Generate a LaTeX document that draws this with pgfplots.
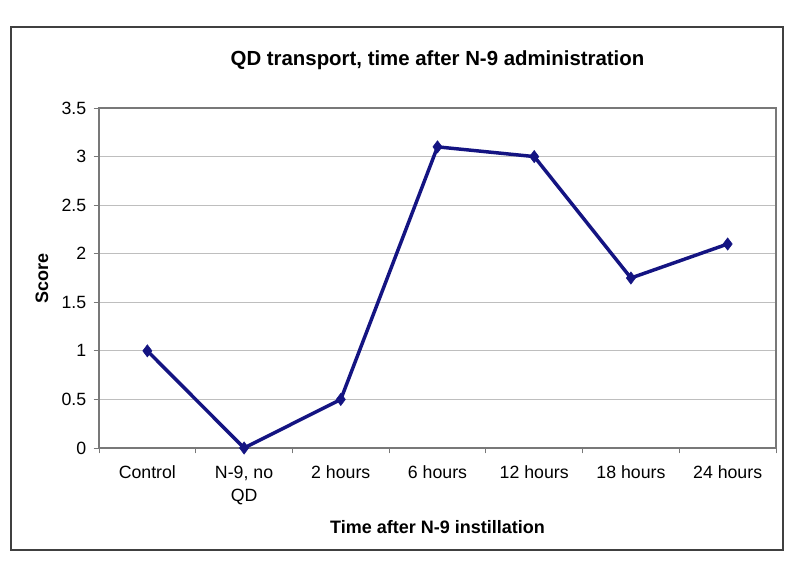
\documentclass[border=0pt]{standalone}
\usepackage{pgfplots}
\pgfplotsset{compat=1.18}
\usepackage{fontspec}
\setmainfont{Liberation Sans}
\definecolor{navyline}{RGB}{20,20,130}
\definecolor{gridgray}{RGB}{190,190,190}
\definecolor{boxgray}{RGB}{120,120,120}
\begin{document}
\begin{tikzpicture}
\useasboundingbox (-74.25pt,-90.75pt) rectangle (525.75pt,336pt);
\fill[white] (-74.25pt,-90.75pt) rectangle (525.75pt,336pt);
\begin{axis}[
  at={(0,0)}, anchor=south west,
  scale only axis, width=507.75pt, height=255pt,
  xmin=-0.5, xmax=6.5, ymin=0, ymax=3.5,
  xtick={0,1,2,3,4,5,6},
  xticklabels={Control,{N-9, no\\QD},2 hours,6 hours,12 hours,18 hours,24 hours},
  minor xtick={-0.5,0.5,1.5,2.5,3.5,4.5,5.5,6.5},
  ytick={0,0.5,1,1.5,2,2.5,3,3.5},
  yticklabels={0,0.5,1,1.5,2,2.5,3,3.5},
  major x tick style={draw=none},
  tick align=outside,
  xtick pos=bottom, ytick pos=left,
  major tick length=4pt, minor tick length=4pt,
  tick style={boxgray, line width=0.6pt},
  ymajorgrids, grid style={gridgray, line width=0.6pt},
  axis line style={boxgray, line width=1pt},
  xticklabel style={align=center, font=\fontsize{13.3}{17.5}\selectfont, yshift=-6pt},
  yticklabel style={font=\fontsize{13.3}{16}\selectfont, xshift=-2pt},
  /pgf/number format/assume math mode=true,
  title={QD transport, time after N-9 administration},
  title style={font=\bfseries\fontsize{15.3}{18}\selectfont, at={(axis description cs:0.5,1)}, anchor=center, yshift=29.75pt},
  xlabel={Time after N-9 instillation},
  xlabel style={font=\bfseries\fontsize{13.5}{16}\selectfont, at={(axis description cs:0.5,0)}, anchor=center, yshift=-59pt},
  ylabel={Score},
  ylabel style={font=\bfseries\fontsize{13.5}{16}\selectfont, at={(axis description cs:-0.0842,0.5)}, anchor=center, rotate=0},
]
\addplot[navyline, line width=2.6pt, mark=diamond*, mark size=4.6pt, mark options={fill=navyline, line width=0.4pt}]
  coordinates {(0,1) (1,0) (2,0.5) (3,3.1) (4,3.0) (5,1.75) (6,2.1)};
\end{axis}
\draw[line width=1.1pt, black!75] (-66pt,-76.5pt) rectangle (513pt,315.75pt);
\end{tikzpicture}
\end{document}
